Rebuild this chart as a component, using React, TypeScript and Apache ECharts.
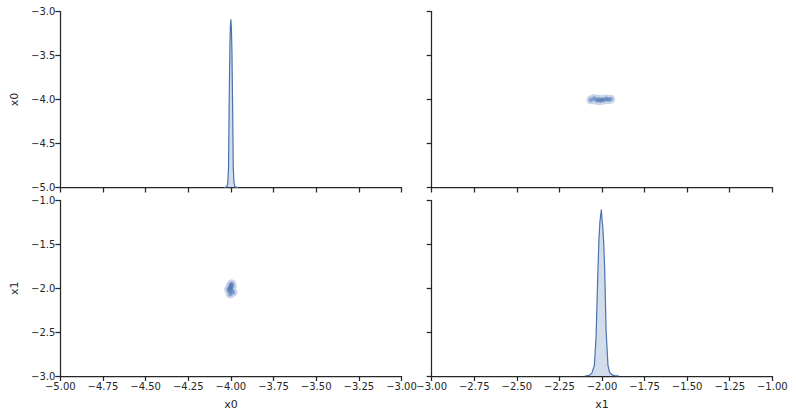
import React, { useEffect, useRef } from "react";
import * as echarts from "echarts";

// KDE of x0 (diagonal, top-left) — relative density
const x0KdeX = [-4.04, -4.03, -4.023, -4.018, -4.014, -4.01, -4.006, -4.003, -4.0, -3.997, -3.994, -3.99, -3.986, -3.982, -3.977, -3.97, -3.96];
const x0KdeY = [0, 0.002, 0.006, 0.03, 0.11, 0.49, 0.8, 0.92, 0.955, 0.9, 0.78, 0.47, 0.11, 0.03, 0.006, 0.002, 0];

// KDE of x1 (diagonal, bottom-right)
const x1KdeX = [-2.1, -2.075, -2.06, -2.045, -2.035, -2.024, -2.018, -2.012, -2.004, -1.999, -1.996, -1.99, -1.984, -1.976, -1.965, -1.955, -1.94, -1.925, -1.9];
const x1KdeY = [0, 0.004, 0.015, 0.06, 0.22, 0.6, 0.78, 0.88, 0.949, 0.88, 0.86, 0.76, 0.6, 0.26, 0.06, 0.02, 0.006, 0.002, 0];

// sample points
const x0Points = [-4.0, -4.01, -3.992, -4.004, -3.996, -4.013, -3.988, -4.006, -3.998, -4.002];
const x1Points = [-2.0, -2.03, -1.975, -2.065, -1.95, -2.01, -2.045, -1.99, -2.02, -1.965];

const xTicksLeft = { min: -5, max: -3, interval: 0.25 };
const xTicksRight = { min: -3, max: -1, interval: 0.25 };
const yTicksTop = { min: -5, max: -3, interval: 0.5 };
const yTicksBottom = { min: -3, max: -1, interval: 0.5 };

const BLUE = "#4c72b0";
const LIGHT = "#c8d4ea";
const INK = "#262626";
const FONT = "DejaVu Sans";

const minus = (s: string) => s.replace("-", "\u2212");

function axisBase(showLabels: boolean, decimals: number) {
  return {
    type: "value" as const,
    axisLine: { show: true, onZero: false, lineStyle: { color: INK, width: 1.25 } },
    axisTick: { show: true, length: 5, lineStyle: { color: INK, width: 1.25 } },
    splitLine: { show: false },
    axisLabel: {
      show: showLabels,
      color: INK,
      fontFamily: FONT,
      fontSize: 10,
      margin: 5,
      formatter: (v: number) => minus(v.toFixed(decimals)),
    },
    nameTextStyle: { color: INK, fontFamily: FONT, fontSize: 11 },
  };
}

export default function App() {
  const ref = useRef<HTMLDivElement>(null);
  useEffect(() => {
    if (!ref.current) return;
    const chart = echarts.init(ref.current, undefined, { renderer: "svg" });
    const pts = x0Points.map((v, i) => [v, x1Points[i]]);
    const ptsT = x0Points.map((v, i) => [x1Points[i], v]);
    const option: any = {
      animation: false,
      backgroundColor: "#ffffff",
      grid: [
        { left: 60.3, top: 11.5, width: 341.2, height: 176 },
        { left: 431.7, top: 11.5, width: 340.6, height: 176 },
        { left: 60.3, top: 200.5, width: 341.2, height: 175.5 },
        { left: 431.7, top: 200.5, width: 340.6, height: 175.5 },
      ],
      xAxis: [
        { ...axisBase(false, 2), gridIndex: 0, ...xTicksLeft },
        { ...axisBase(false, 2), gridIndex: 1, ...xTicksRight },
        { ...axisBase(true, 2), gridIndex: 2, ...xTicksLeft, name: "x0", nameLocation: "middle", nameGap: 23 },
        { ...axisBase(true, 2), gridIndex: 3, ...xTicksRight, name: "x1", nameLocation: "middle", nameGap: 23 },
      ],
      yAxis: [
        { ...axisBase(true, 1), gridIndex: 0, ...yTicksTop, name: "x0", nameLocation: "middle", nameGap: 40 },
        { ...axisBase(false, 1), gridIndex: 1, ...yTicksTop },
        { ...axisBase(true, 1), gridIndex: 2, ...yTicksBottom, name: "x1", nameLocation: "middle", nameGap: 40 },
        { ...axisBase(false, 1), gridIndex: 3, ...yTicksBottom },
        { type: "value", gridIndex: 0, min: 0, max: 1, show: false, position: "left" },
        { type: "value", gridIndex: 3, min: 0, max: 1, show: false, position: "left" },
      ],
      series: [
        {
          type: "line",
          xAxisIndex: 0,
          yAxisIndex: 4,
          data: x0KdeX.map((x, i) => [x, x0KdeY[i]]),
          showSymbol: false,
          lineStyle: { color: BLUE, width: 1.2 },
          areaStyle: { color: BLUE, opacity: 0.25 },
          itemStyle: { color: BLUE },
        },
        {
          type: "line",
          xAxisIndex: 3,
          yAxisIndex: 5,
          data: x1KdeX.map((x, i) => [x, x1KdeY[i]]),
          showSymbol: false,
          lineStyle: { color: BLUE, width: 1.2 },
          areaStyle: { color: BLUE, opacity: 0.25 },
          itemStyle: { color: BLUE },
        },
        {
          type: "scatter",
          xAxisIndex: 1,
          yAxisIndex: 1,
          data: ptsT,
          symbolSize: 9,
          itemStyle: { color: LIGHT, opacity: 1 },
        },
        {
          type: "scatter",
          xAxisIndex: 1,
          yAxisIndex: 1,
          data: ptsT,
          symbolSize: 4.5,
          itemStyle: { color: BLUE, opacity: 0.55 },
        },
        {
          type: "scatter",
          xAxisIndex: 2,
          yAxisIndex: 2,
          data: pts,
          symbolSize: 9,
          itemStyle: { color: LIGHT, opacity: 1 },
        },
        {
          type: "scatter",
          xAxisIndex: 2,
          yAxisIndex: 2,
          data: pts,
          symbolSize: 4.5,
          itemStyle: { color: BLUE, opacity: 0.55 },
        },
      ],
    };
    chart.setOption(option);
    return () => chart.dispose();
  }, []);
  return (
    <div
      ref={ref}
      style={{ position: "fixed", left: 0, top: 0, width: 796, height: 420, background: "#fff" }}
    />
  );
}
